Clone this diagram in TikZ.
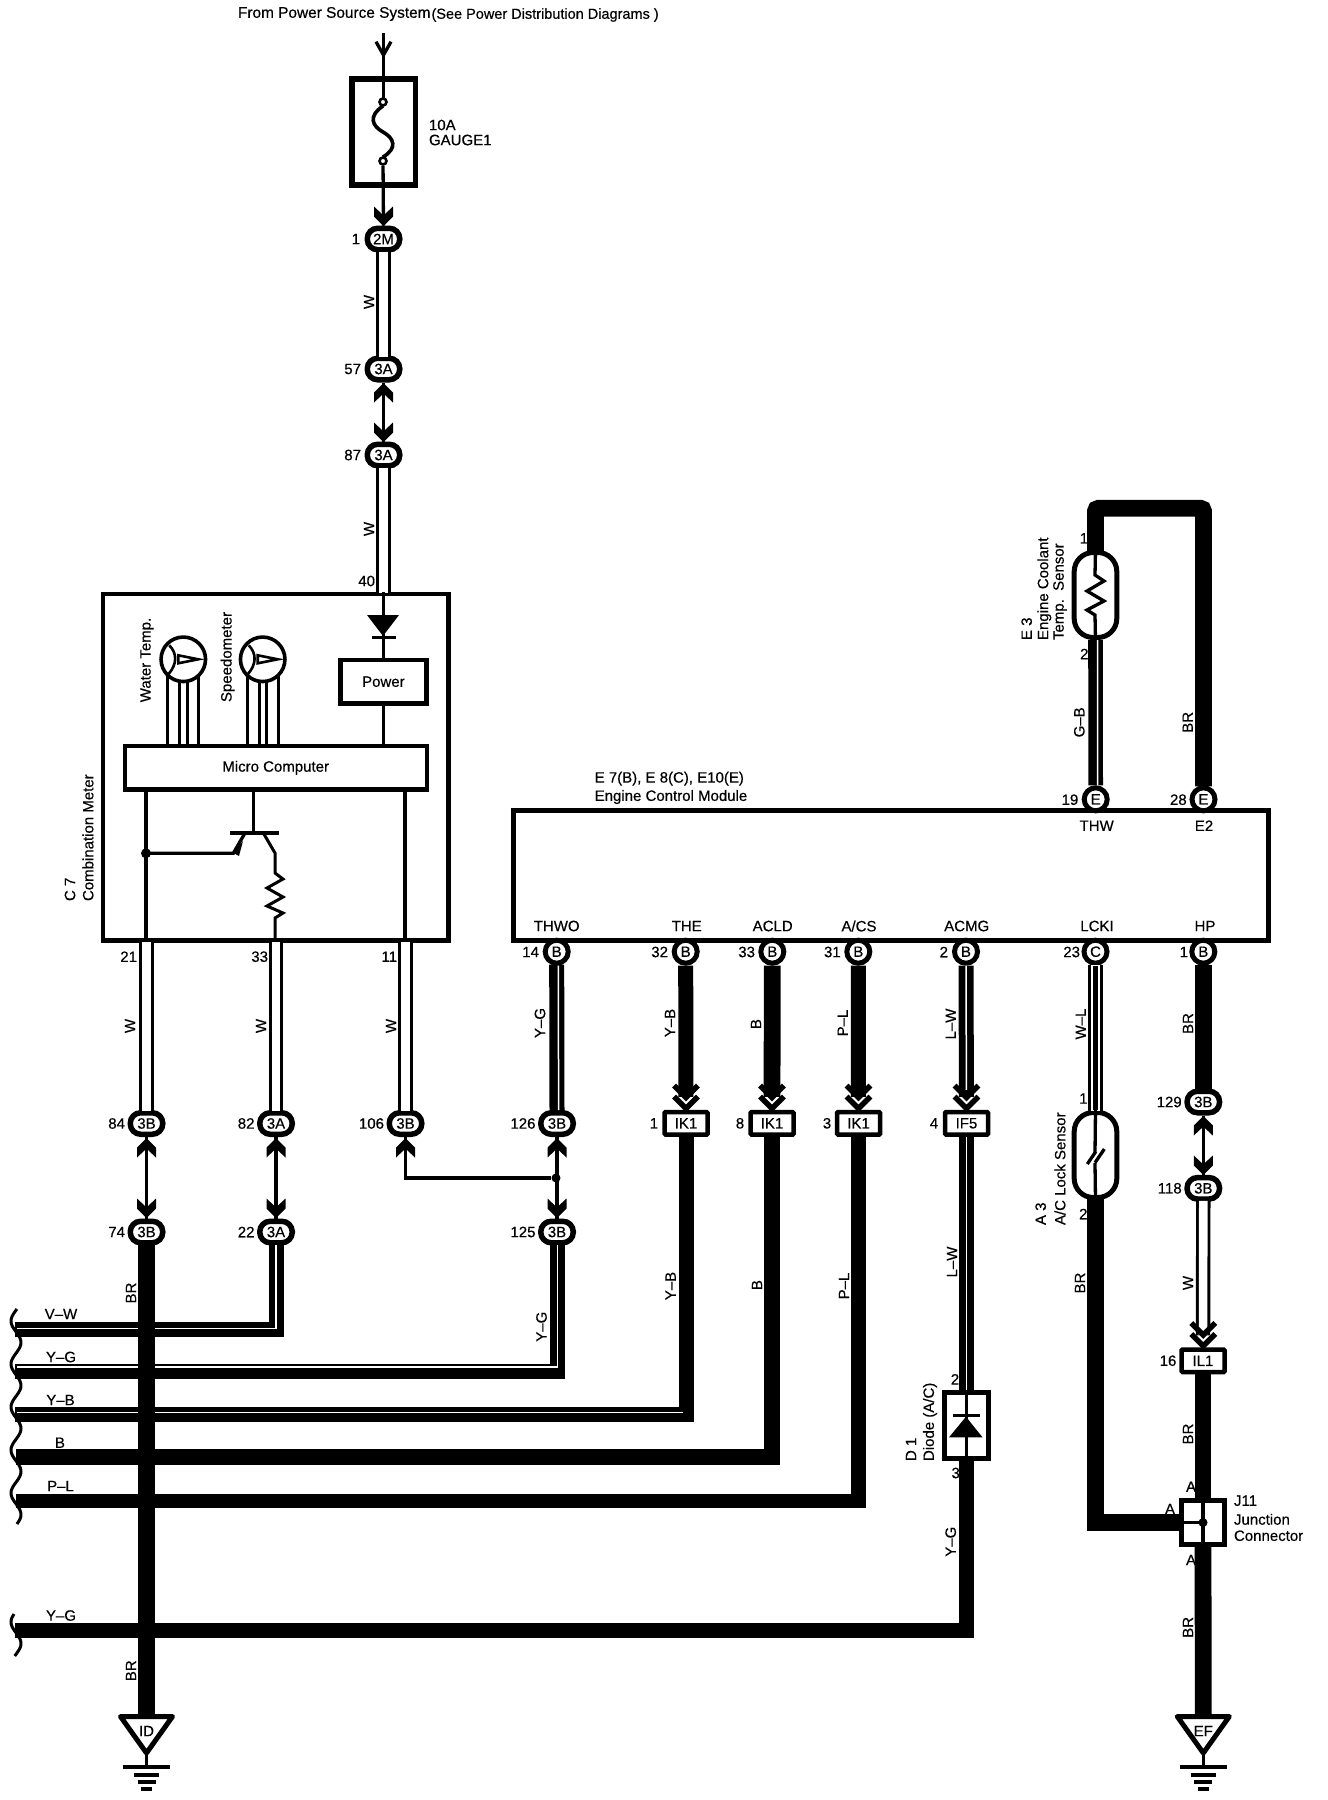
\documentclass[tikz,border=0pt]{standalone}
\usepackage{fontspec}
\setmainfont[FakeBold=0.4]{Liberation Sans}
\newcounter{tc}
\tikzset{
  lab/.style={inner sep=0pt,outer sep=0pt,font=\fontsize{15}{16}\selectfont},
  vlab/.style={lab,rotate=90},
  oval/.style={draw,fill=white,line width=5.5pt,rounded corners=10.5pt,minimum width=32.5pt,minimum height=21.5pt,inner sep=0pt,font=\fontsize{15}{16}\selectfont},
  pinc/.style={draw,fill=white,circle,line width=5pt,minimum size=23pt,inner sep=0pt,font=\fontsize{15}{16}\selectfont},
  rconn/.style={draw,fill=white,line width=4.5pt,rounded corners=1pt,minimum width=43pt,minimum height=22.5pt,inner sep=0pt,font=\fontsize{15}{16}\selectfont},
  boxx/.style={draw,line width=4.4pt,inner sep=0pt,font=\fontsize{15}{16}\selectfont},
  capsule/.style={draw,fill=white,line width=5pt,rounded corners=19pt,minimum width=42.6pt,inner sep=0pt},
  dotn/.style={circle,fill=black,inner sep=0pt,minimum size=9pt},
  meter/.style={draw,circle,line width=3.6pt,minimum size=44.5pt,inner sep=0pt},
  thinw/.style={line width=3.3pt},
  whitew/.style={double=white,double distance=8.6pt,line width=2.9pt,shorten <=-1pt,shorten >=-1pt},
  wl/.style={double=white,double distance=9.6pt,line width=3pt,shorten <=-1pt,shorten >=-1pt},
  solid15/.style={line width=15pt,shorten <=-1pt,shorten >=-1pt},
  solid17/.style={line width=16.8pt,shorten <=-1pt,shorten >=-1pt},
  tracer/.style={white,line width=1.5pt},
}
\newcommand\tx[4][]{\stepcounter{tc}\node[lab,#1] (t\arabic{tc}) at (#2,#3) {#4};}
\newcommand\vtx[4][]{\stepcounter{tc}\node[vlab,#1] (t\arabic{tc}) at (#2,#3) {#4};}
% small filled chevron: x, tip y, direction (1 = points down, -1 = points up)
\newcommand\chev[3]{\fill[yscale=#3,shift={(#1,{#2*#3})}] (0,0) -- (-9.5,-9.5) -- (-9.5,-19.5) -- (-1.5,-12) -- (1.5,-12) -- (9.5,-19.5) -- (9.5,-9.5) -- cycle;}
% large double chevron above a box top: x, box top y
\newcommand\bigchev[2]{\begin{scope}[shift={(#1,#2)},line width=5.5pt]
  \draw (-12,-24.5) -- (0,-12.5) -- (12,-24.5);
  \draw (-12,-13.5) -- (0,-1.5) -- (12,-13.5);
\end{scope}}
\newcommand\meterin[1]{\begin{scope}[shift={(#1)},line width=2.6pt]
  \draw (-14,-14) .. controls (-6,-6) and (-6,5) .. (-15,15);
  \draw (15,0) -- (-5,-4) -- (-5,4) -- cycle;
\end{scope}}
\newcommand\gndsym[3]{%
  \node[inner sep=0pt] (#1top) at (#2,1716.5) {};
  \path[fill=white,draw=black,line width=5pt,line join=round] (#2-26,1716.5) -- (#2+26,1716.5) -- (#2,1753) -- cycle;
  \node[lab] (#1txt) at (#2,1731) {#3};
  \draw[line width=3.3pt] (#2,1753) -- (#2,1767);
  \draw[line width=3.3pt] (#2-23.5,1767) -- (#2+23.5,1767);
  \draw[line width=4pt] (#2-12.5,1775) -- (#2+12.5,1775);
  \draw[line width=3.6pt] (#2-9,1782) -- (#2+9,1782);
  \draw[line width=3.6pt] (#2-5.5,1789) -- (#2+5.5,1789);
}
\begin{document}
\begin{tikzpicture}[x=1pt,y=-1pt]
\path[use as bounding box,fill=white] (0,0) rectangle (1328,1800);

% ---------- nodes ----------
\node[boxx,minimum width=345.6pt,minimum height=346.4pt] (cm) at (275.7,767.4) {};
\node[boxx,fill=white,minimum width=302pt,minimum height=43.5pt] (micro) at (275.7,767.8) {Micro Computer};
\node[boxx,fill=white,minimum width=86pt,minimum height=43.5pt] (power) at (383.4,681.7) {Power};
\node[boxx,line width=5pt,minimum width=755pt,minimum height=130pt] (ecm) at (890.5,875.5) {};
\node[draw,line width=5.5pt,minimum width=63.5pt,minimum height=106pt,inner sep=0pt] (fuse) at (383.5,132) {};
\node[meter] (m1) at (183.3,659.3) {};
\node[meter] (m2) at (262.7,659.3) {};

\node[oval] (c2m) at (383.5,239) {2M};
\node[oval] (c57) at (383.5,369) {3A};
\node[oval] (c87) at (383.5,455) {3A};
\node[oval] (c84) at (146.5,1123.5) {3B};
\node[oval] (c82) at (276,1123.5) {3A};
\node[oval] (c106) at (405.5,1123.5) {3B};
\node[oval] (c126) at (557,1123.5) {3B};
\node[oval] (c74) at (146.5,1232) {3B};
\node[oval] (c22) at (276,1232) {3A};
\node[oval] (c125) at (557,1232) {3B};
\node[oval] (c129) at (1203.3,1102) {3B};
\node[oval] (c118) at (1203.3,1188.3) {3B};

\node[pinc] (p14) at (556.7,951.7) {B};
\node[pinc] (p32) at (685.7,951.7) {B};
\node[pinc] (p33) at (772.3,951.7) {B};
\node[pinc] (p31) at (858.3,951.7) {B};
\node[pinc] (p2) at (966,951.7) {B};
\node[pinc] (p23) at (1095.5,951.7) {C};
\node[pinc] (p1) at (1203.3,951.7) {B};
\node[pinc] (p19) at (1095.7,799.3) {E};
\node[pinc] (p28) at (1203.5,799.3) {E};

\node[rconn] (ik1a) at (686,1123.3) {IK1};
\node[rconn] (ik1b) at (772,1123.3) {IK1};
\node[rconn] (ik1c) at (858.5,1123.3) {IK1};
\node[rconn] (if5) at (966.5,1123.3) {IF5};
\node[rconn] (il1) at (1203,1360.8) {IL1};
\node[draw,fill=white,line width=4.5pt,minimum width=44pt,minimum height=66pt,inner sep=0pt] (d1) at (966.5,1425.3) {};
\node[draw,fill=white,line width=4.5pt,minimum width=43pt,minimum height=44pt,inner sep=0pt] (j11) at (1203,1522.5) {};
\node[capsule,minimum height=85pt] (e3) at (1095.5,595) {};
\node[capsule,minimum height=85pt] (a3) at (1095.5,1155) {};
\node[dotn] (j1) at (556,1178) {};

% free ends
\coordinate (vwL) at (16,1329);
\coordinate (ygL) at (16,1371);
\coordinate (ybL) at (16,1414.5);
\coordinate (bL) at (17,1457);
\coordinate (plL) at (16,1501);
\coordinate (yg2L) at (16,1630.5);
\coordinate (idG) at (146.5,1716.5);
\coordinate (efG) at (1203.3,1716.5);
\coordinate (arrTop) at (383.5,33);
\coordinate (loopTop) at (1150,508.3);

% ---------- harness wave ends ----------
\draw[line width=3pt] plot[domain=1309:1524,samples=120] ({16-5*cos((\x-1321)*8.37)},\x);
\draw[line width=3pt] plot[domain=1614:1656,samples=30] ({16-5*cos((\x-1622)*8.37)},\x);

% ---------- horizontal harness wires ----------
\draw[solid15] (c22.south) |- (vwL);
\draw[tracer] (276,1245) |- (17,1328.3);
\draw[solid15] (c125.south) |- (ygL);
\draw[tracer] (557.7,1245) |- (17,1366.8);
\draw[solid15] (ik1a.south) |- (ybL);
\draw[tracer] (682.7,1412.3) -- (17,1412.3);
\draw[solid17] (ik1b.south) |- (bL);
\draw[line width=14.6pt,shorten <=-1pt] (ik1c.south) |- (plL);
\draw[solid15] (d1.south) |- (yg2L);
% BR main
\draw[solid17] (c74.south) -- (idG);

% ---------- top chain ----------
\draw[thinw] (arrTop) -- (383.5,102);
\draw[thinw] (376,41.7) -- (383.5,55) -- (391,41.7);
\draw[line width=3.6pt] (383,106) .. controls (368,116) and (372,126) .. (383,132) .. controls (394,138) and (398,148) .. (383,157);
\node[draw,fill=white,circle,line width=2.6pt,minimum size=7pt,inner sep=0pt] (f1) at (383,102) {};
\node[draw,fill=white,circle,line width=2.6pt,minimum size=7pt,inner sep=0pt] (f2) at (383,161) {};
\draw[thinw] (f2) -- (c2m.north);
\chev{383.5}{226}{1}
\draw[whitew] (c2m.south) -- (c57.north);
\draw[thinw] (c57.south) -- (c87.north);
\chev{383.5}{383}{-1}
\chev{383.5}{442}{1}
\draw[whitew] (c87.south) -- (c87.south |- cm.north);
\draw[thinw] (c87.south |- cm.north) -- (power.north -| c87.south);
\fill (367,615) -- (399,615) -- (383,636) -- cycle;
\draw[line width=3pt] (372,637.5) -- (396,637.5);
\draw[thinw] (power.south -| c87.south) -- (micro.north -| c87.south);

% ---------- meter internals ----------
\meterin{m1}
\meterin{m2}
\foreach \mx/\my in {167.3/675,179.3/681,187.3/681,198.3/675,247.3/675,259.3/681,266.7/681,278.3/675}
  \draw[thinw] (\mx,\my) -- (\mx,744);

% ---------- inside combination meter ----------
\draw[thinw] (146,791) -- (146,941);
\draw[thinw] (405,791) -- (405,941);
\draw[line width=2.8pt] (253.3,791) -- (253.3,832);
\draw[line width=4pt] (230,832.7) -- (279,832.7);
\draw[line width=3.3pt] (245,833) -- (233.3,853.3) -- (146,853.3);
\fill (233.5,853) -- (243,841) -- (239,856) -- cycle;
\node[dotn,minimum size=10pt] (j0) at (146,853.3) {};
\draw[line width=3pt,line join=miter] (263.3,833) -- (275,853) -- (275,873) -- (283,879) -- (267,888) -- (283,897) -- (267,906) -- (283,913) -- (275,918) -- (275,941);

% ---------- meter output wires ----------
\draw[whitew] (c84.north |- cm.south) -- (c84.north);
\draw[whitew] (c82.north |- cm.south) -- (c82.north);
\draw[whitew] (c106.north |- cm.south) -- (c106.north);
\draw[thinw] (c84.south) -- (c74.north);
\draw[thinw] (c82.south) -- (c22.north);
\draw[thinw] (c126.south) -- (c125.north);
\draw[thinw] (c106.south) |- (j1);
\chev{146.5}{1138}{-1}
\chev{276}{1138}{-1}
\chev{405.5}{1138}{-1}
\chev{557}{1138}{-1}
\chev{146.5}{1218}{1}
\chev{276}{1218}{1}
\chev{557}{1218}{1}

% ---------- ECM output wires ----------
\draw[solid15] (p14.south) -- (c126.north);
\draw[tracer] ([xshift=1.6pt]p14.south) -- ([xshift=1.6pt]c126.north);
\draw[line width=15pt,shorten >=13pt] (p32.south) -- (ik1a.north);
\draw[line width=16.8pt,shorten >=13pt] (p33.south) -- (ik1b.north);
\draw[line width=15pt,shorten >=13pt] (p31.south) -- (ik1c.north);
\draw[line width=15pt,shorten >=13pt] (p2.south) -- (if5.north);
\draw[tracer,shorten >=20pt] (p2.south) -- (if5.north);
\bigchev{686}{1110}
\bigchev{772}{1110}
\bigchev{858.5}{1110}
\bigchev{966.5}{1110}
\draw[line width=15pt] (if5.south) -- (d1.north);
\draw[tracer] (if5.south) -- (d1.north);

% diode D1
\draw[thinw] (d1.north) -- (d1.south);
\fill (949,1437.3) -- (982.5,1437.3) -- (966,1416.7) -- cycle;
\draw[line width=3pt] (952.7,1415) -- (979.5,1415);

% A/C lock sensor
\draw[wl] (p23.south) -- (a3.north);
\draw[line width=4.5pt] (p23.south) -- (a3.north);
\draw[solid17] (a3.south) |- (j11.west);
\draw[thinw] (a3.north) -- (1095,1153);
\draw[thinw] (1095,1163) -- (a3.south);
\draw[line width=3.3pt] (1087.3,1164) -- (1095.7,1151.7);
\draw[line width=3.3pt] (1095,1162.7) -- (1104.3,1149);

% HP chain
\draw[solid17] (p1.south) -- (c129.north);
\draw[thinw] (c129.south) -- (c118.north);
\chev{1203.3}{1116}{-1}
\chev{1203.3}{1175}{1}
\draw[whitew,shorten >=12pt] (c118.south) -- (il1.north);
\bigchev{1203.3}{1347.5}
\draw[solid17] (il1.south) -- (j11.north);
\draw[solid17] (j11.south) -- (efG);
\draw[thinw] (j11.north) -- (j11.south);
\draw[thinw] (j11.west) -- (j11.center);
\node[dotn] (j2) at (j11.center) {};

% coolant sensor
\draw[solid17,rounded corners=3pt] (e3.north) |- (loopTop) -| (p28.north);
\draw[line width=14.6pt] (e3.south) -- (p19.north);
\draw[tracer] ([xshift=2pt]e3.south) -- ([xshift=2pt]p19.north);
\draw[line width=3.3pt] (e3.north) -- (1095,575) -- (1104,581) -- (1087,591) -- (1104,601) -- (1087,610) -- (1095,615) -- (e3.south);

% grounds
\gndsym{idg}{146.5}{ID}
\gndsym{efg}{1203.3}{EF}

% ---------- text ----------
\tx[anchor=west,font=\fontsize{15.4}{16}\selectfont]{238}{14}{From Power Source System}
\tx[anchor=west,font=\fontsize{14.5}{16}\selectfont]{431.5}{15}{(See Power Distribution Diagrams )}
\tx[anchor=west]{429}{125}{10A}
\tx[anchor=west]{429}{140}{GAUGE1}
\tx[anchor=east]{360}{239}{1}
\tx[anchor=east]{361}{369}{57}
\tx[anchor=east]{361}{455}{87}
\vtx{369}{302}{W}
\vtx{369}{529}{W}
\tx[anchor=east]{375}{581}{40}
\vtx{147}{660}{Water Temp.}
\vtx{227.7}{657}{Speedometer}
\vtx[anchor=west]{70}{901}{C 7}
\vtx[anchor=west]{88}{901}{Combination Meter}
\tx[anchor=east]{137}{956.7}{21}
\tx[anchor=east]{268}{956.7}{33}
\tx[anchor=east]{397}{956.7}{11}
\vtx{130}{1026}{W}
\vtx{261}{1026}{W}
\vtx{391}{1026}{W}
\tx[anchor=east]{125}{1123.5}{84}
\tx[anchor=east]{254.5}{1123.5}{82}
\tx[anchor=east]{384}{1123.5}{106}
\tx[anchor=east]{535.5}{1123.5}{126}
\tx[anchor=east]{125}{1232}{74}
\tx[anchor=east]{254.5}{1232}{22}
\tx[anchor=east]{535.5}{1232}{125}
\vtx{131}{1293}{BR}
\vtx{131}{1670.7}{BR}
\tx{61}{1314}{V–W}
\tx{61}{1357}{Y–G}
\tx{60.5}{1400}{Y–B}
\tx{60}{1442.7}{B}
\tx{60.5}{1486}{P–L}
\tx{61}{1615.5}{Y–G}
\vtx{541.5}{1326.7}{Y–G}
\vtx{670.6}{1286}{Y–B}
\vtx{757}{1285}{B}
\vtx{844}{1286}{P–L}
\vtx{952}{1262}{L–W}
\tx[anchor=west]{594.7}{778.7}{E 7(B), E 8(C), E10(E)}
\tx[anchor=west]{594.7}{797}{Engine Control Module}
\tx{556.7}{926}{THWO}
\tx{686.7}{926}{THE}
\tx{772.7}{926}{ACLD}
\tx{859}{926}{A/CS}
\tx{966.7}{926}{ACMG}
\tx{1097}{926}{LCKI}
\tx{1205}{926}{HP}
\tx{1096.7}{825.7}{THW}
\tx{1204}{825.7}{E2}
\tx[anchor=east]{539}{952}{14}
\tx[anchor=east]{668}{952}{32}
\tx[anchor=east]{755}{952}{33}
\tx[anchor=east]{840.7}{952}{31}
\tx[anchor=east]{948}{952}{2}
\tx[anchor=east]{1080}{952}{23}
\tx[anchor=east]{1188}{952}{1}
\tx[anchor=east]{1078.3}{799.7}{19}
\tx[anchor=east]{1186.7}{799.7}{28}
\vtx{540}{1023}{Y–G}
\vtx{670}{1023}{Y–B}
\vtx{756}{1024}{B}
\vtx{842.7}{1023}{P–L}
\vtx{950.7}{1024}{L–W}
\vtx{1080.7}{1024}{W–L}
\vtx{1188}{1023.5}{BR}
\tx{654}{1123.3}{1}
\tx{740}{1123.3}{8}
\tx{827}{1123.3}{3}
\tx{934}{1123.3}{4}
\tx{955}{1379.3}{2}
\tx{955.7}{1473}{3}
\vtx[anchor=west]{930}{1461}{Diode (A/C)}
\vtx[anchor=west]{911}{1461}{D 1}
\vtx{950.7}{1541.7}{Y–G}
\tx{1083.5}{1098.5}{1}
\tx{1083.3}{1214}{2}
\vtx[anchor=west]{1060}{1225}{A/C Lock Sensor}
\vtx[anchor=west]{1040.7}{1225}{A 3}
\vtx{1080}{1283}{BR}
\tx[anchor=east]{1181.7}{1102}{129}
\tx[anchor=east]{1181.7}{1188.3}{118}
\vtx{1188}{1283}{W}
\tx{1168}{1360.7}{16}
\vtx{1188}{1434}{BR}
\vtx{1188}{1627.3}{BR}
\tx{1191}{1486.7}{A}
\tx{1170}{1509}{A}
\tx{1191}{1560}{A}
\tx[anchor=west]{1234}{1500.7}{J11}
\tx[anchor=west]{1234}{1519.3}{Junction}
\tx[anchor=west]{1234}{1535.7}{Connector}
\tx{1084}{538.3}{1}
\tx{1084.3}{654}{2}
\vtx{1079.3}{722.3}{G–B}
\vtx{1187.7}{722.3}{BR}
\vtx[anchor=west]{1044.3}{640}{Engine Coolant}
\vtx[anchor=west]{1060}{640}{Temp.\ \ Sensor}
\vtx[anchor=west]{1026.7}{640}{E 3}
\end{tikzpicture}
\end{document}
